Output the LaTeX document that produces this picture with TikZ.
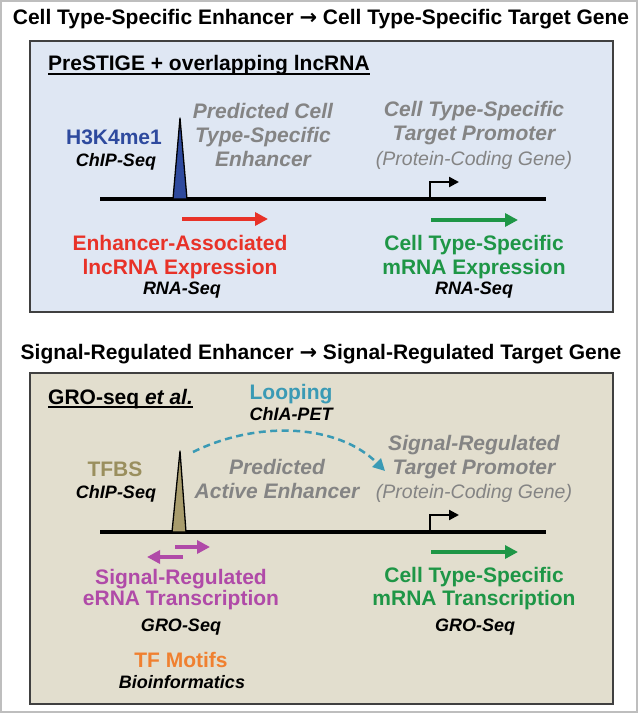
\documentclass[tikz,border=0pt]{standalone}
\usepackage{fontspec}
\setmainfont{Liberation Sans}
\newfontfamily\arrowfont{DejaVu Sans}
\usetikzlibrary{arrows.meta}
\definecolor{boxblue}{RGB}{223,231,243}
\definecolor{boxbeige}{RGB}{226,222,206}
\definecolor{boxline}{RGB}{64,64,64}
\definecolor{pagegray}{RGB}{190,190,190}
\definecolor{txtgray}{RGB}{132,132,132}
\definecolor{markblue}{RGB}{46,74,158}
\definecolor{redc}{RGB}{232,50,40}
\definecolor{greenc}{RGB}{30,150,70}
\definecolor{tealc}{RGB}{58,154,181}
\definecolor{olivec}{RGB}{154,143,94}
\definecolor{olivefill}{RGB}{168,156,108}
\definecolor{purplec}{RGB}{176,74,168}
\definecolor{orangec}{RGB}{240,128,48}
\newcommand{\bigarrow}{{\arrowfont\bfseries →}}
\begin{document}
\begin{tikzpicture}[x=1pt,y=-1pt,
  big/.style={font=\fontsize{21}{24}\selectfont\bfseries, inner sep=0pt, anchor=base},
  subt/.style={font=\fontsize{18}{21}\selectfont\bfseries\itshape, inner sep=0pt, anchor=base},
  graytxt/.style={font=\fontsize{21}{24}\selectfont\bfseries\itshape, text=txtgray, inner sep=0pt, anchor=base},
  paren/.style={font=\fontsize{19.5}{22}\selectfont\itshape, text=txtgray, inner sep=0pt, anchor=base},
  panel/.style={draw=boxline, line width=1.5pt},
  dna/.style={line width=4.5pt},
  peak/.style={draw=black, line width=1.3pt, line join=round},
  fat/.style={line width=3.5pt, -{Triangle[length=13pt,width=13pt]}},
  tss/.style={line width=2.2pt, -{Triangle[length=10pt,width=10pt]}},
  uline/.style={line width=1.5pt}
]
\useasboundingbox (0,0) rectangle (639,714);
\fill[white] (0,0) rectangle (639,714);
\draw[pagegray, line width=1.5pt] (1,1) rectangle (637,712);

% ---------------- Panel 1 ----------------
\node[big] (t1) at (321,25) {Cell Type-Specific Enhancer \bigarrow{} Cell Type-Specific Target Gene};
\draw[panel, fill=boxblue] (30,41) rectangle (613,312);
\node[big, anchor=base west] (h1) at (48,71) {PreSTIGE + overlapping lncRNA};
\draw[uline] ([yshift=-3pt]h1.base west) -- ([yshift=-3pt]h1.base east);

\node[big, text=markblue] (mk1) at (114,145) {H3K4me1};
\node[subt] (mk1s) at (116,167) {ChIP-Seq};

\node[graytxt] (pe1a) at (263,119) {Predicted Cell};
\node[graytxt] (pe1b) at (263,143) {Type-Specific};
\node[graytxt] (pe1c) at (263,167) {Enhancer};

\node[graytxt] (tp1a) at (474,117) {Cell Type-Specific};
\node[graytxt] (tp1b) at (474,141) {Target Promoter};
\node[paren] (tp1c) at (474,166) {(Protein-Coding Gene)};

\coordinate (l1a) at (100,199);
\coordinate (l1b) at (546,199);
\draw[dna] (l1a) -- (l1b);
\coordinate (pk1l) at (173,199);
\coordinate (pk1t) at (180,118);
\coordinate (pk1r) at (187,199);
\draw[peak, fill=markblue] (pk1l) -- (pk1t) -- (pk1r) -- cycle;

\coordinate (ts1a) at (430,199);
\coordinate (ts1b) at (430,182);
\coordinate (ts1c) at (459,182);
\draw[tss] (ts1a) -- (ts1b) -- (ts1c);

\coordinate (ra1) at (182,219);
\coordinate (ra2) at (268,219);
\draw[fat, redc] (ra1) -- (ra2);
\coordinate (ga1) at (431,220);
\coordinate (ga2) at (518,220);
\draw[fat, greenc] (ga1) -- (ga2);

\node[big, text=redc] (e1a) at (180,250) {Enhancer-Associated};
\node[big, text=redc] (e1b) at (180,274) {lncRNA Expression};
\node[subt] (e1c) at (182,294) {RNA-Seq};

\node[big, text=greenc] (m1a) at (474,250) {Cell Type-Specific};
\node[big, text=greenc] (m1b) at (474,274) {mRNA Expression};
\node[subt] (m1c) at (474,294) {RNA-Seq};

% ---------------- Panel 2 ----------------
\node[big] (t2) at (321,359) {Signal-Regulated Enhancer \bigarrow{} Signal-Regulated Target Gene};
\draw[panel, fill=boxbeige] (30,373) rectangle (613,704);
\node[big, anchor=base west] (h2) at (48,404) {GRO-seq \textit{et al.}};
\draw[uline] ([yshift=-3pt]h2.base west) -- ([yshift=-3pt]h2.base east);

\node[big, text=tealc] (lp) at (291,399) {Looping};
\node[subt] (lps) at (291,420) {ChIA-PET};

\node[big, text=olivec] (tf) at (115,476) {TFBS};
\node[subt] (tfs) at (116,498) {ChIP-Seq};

\node[graytxt] (pe2a) at (277,474) {Predicted};
\node[graytxt] (pe2b) at (277,498) {Active Enhancer};

\node[graytxt] (tp2a) at (474,450) {Signal-Regulated};
\node[graytxt] (tp2b) at (474,474) {Target Promoter};
\node[paren] (tp2c) at (474,498) {(Protein-Coding Gene)};

\coordinate (lpa) at (193,452);
\coordinate (lpb) at (385,471);
\draw[tealc, line width=2.5pt, dash pattern=on 7pt off 4.5pt, -{Triangle[length=12pt,width=12pt]}]
  (lpa) .. controls (258,420) and (338,424) .. (lpb);

\coordinate (l2a) at (100,532);
\coordinate (l2b) at (546,532);
\draw[dna] (l2a) -- (l2b);
\coordinate (pk2l) at (172,532);
\coordinate (pk2t) at (180,451);
\coordinate (pk2r) at (186,532);
\draw[peak, fill=olivefill] (pk2l) -- (pk2t) -- (pk2r) -- cycle;

\coordinate (ts2a) at (430,532);
\coordinate (ts2b) at (430,515);
\coordinate (ts2c) at (459,515);
\draw[tss] (ts2a) -- (ts2b) -- (ts2c);

\coordinate (pa1) at (175,547);
\coordinate (pa2) at (210,547);
\draw[fat, purplec] (pa1) -- (pa2);
\coordinate (pb1) at (183,557);
\coordinate (pb2) at (147,557);
\draw[fat, purplec] (pb1) -- (pb2);

\coordinate (gb1) at (431,552);
\coordinate (gb2) at (518,552);
\draw[fat, greenc] (gb1) -- (gb2);

\node[big, text=purplec] (s2a) at (181,584) {Signal-Regulated};
\node[big, text=purplec] (s2b) at (181,605) {eRNA Transcription};
\node[subt] (s2c) at (181,631) {GRO-Seq};
\node[big, text=orangec] (mo) at (181,667) {TF Motifs};
\node[subt] (mos) at (182,688) {Bioinformatics};

\node[big, text=greenc] (m2a) at (474,582) {Cell Type-Specific};
\node[big, text=greenc] (m2b) at (474,605) {mRNA Transcription};
\node[subt] (m2c) at (475,631) {GRO-Seq};
\end{tikzpicture}
\end{document}
